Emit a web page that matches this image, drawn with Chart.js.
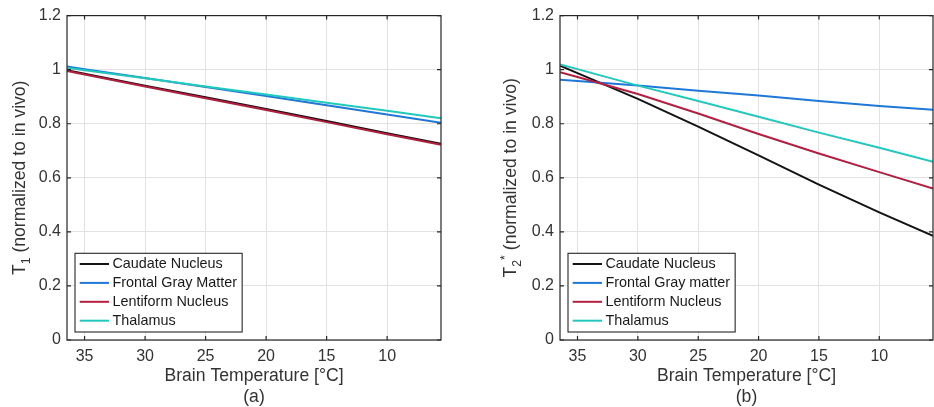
<!DOCTYPE html>
<html>
<head>
<meta charset="utf-8">
<script src="https://cdn.jsdelivr.net/npm/chart.js@4.4.1/dist/chart.umd.min.js"></script>
<style>
  html, body { margin: 0; padding: 0; background: #ffffff; }
  #wrap { position: relative; width: 934px; height: 407px; overflow: hidden; }
  #wrap canvas { position: absolute; top: 0; }
</style>
</head>
<body>
<div id="wrap">
  <canvas id="panelA" width="467" height="407" style="left:0px"></canvas>
  <canvas id="panelB" width="467" height="407" style="left:467px"></canvas>
</div>
<script>
// Brain temperature samples [°C]
const temperatures = [36.45, 35, 30, 25, 20, 15, 10, 5.55];

// Tick positions
const xTicks = [35, 30, 25, 20, 15, 10];
const yTicks = [0, 0.2, 0.4, 0.6, 0.8, 1, 1.2];

// Region names
const regionsT1 = ['Caudate Nucleus', 'Frontal Gray Matter', 'Lentiform Nucleus', 'Thalamus'];
const regionsT2 = ['Caudate Nucleus', 'Frontal Gray matter', 'Lentiform Nucleus', 'Thalamus'];

// T1 normalized to in vivo
const t1Caudate   = [0.998, 0.985, 0.941, 0.898, 0.855, 0.810, 0.765, 0.726];
const t1Frontal   = [1.012, 1.002, 0.969, 0.936, 0.903, 0.868, 0.834, 0.804];
const t1Lentiform = [0.995, 0.982, 0.938, 0.894, 0.851, 0.806, 0.761, 0.722];
const t1Thalamus  = [1.007, 0.998, 0.968, 0.938, 0.908, 0.878, 0.848, 0.820];

// T2* normalized to in vivo
const t2Caudate   = [1.015, 0.987, 0.892, 0.789, 0.683, 0.575, 0.472, 0.385];
const t2Frontal   = [0.963, 0.958, 0.941, 0.922, 0.904, 0.884, 0.866, 0.852];
const t2Lentiform = [0.991, 0.973, 0.910, 0.838, 0.762, 0.690, 0.621, 0.560];
const t2Thalamus  = [1.019, 1.002, 0.941, 0.884, 0.826, 0.767, 0.711, 0.659];

const lineColors = ['#141414', '#1f78d8', '#b41f40', '#23c8bd'];

const FONT = "'Liberation Sans', Arial, Helvetica, sans-serif";
Chart.defaults.font.family = FONT;

// Frame, inside tick marks, in-axes legend and the rotated y-axis label
const panelPlugin = {
  id: 'panel',
  afterDatasetsDraw(chart) {
    const { ctx, chartArea: a, scales: { x, y } } = chart;
    ctx.save();
    ctx.strokeStyle = '#262626';
    ctx.lineWidth = 1.2;
    ctx.beginPath();
    const tl = 4;
    xTicks.forEach(v => {
      const px = x.getPixelForValue(v);
      ctx.moveTo(px, a.bottom); ctx.lineTo(px, a.bottom - tl);
      ctx.moveTo(px, a.top); ctx.lineTo(px, a.top + tl);
    });
    yTicks.forEach(v => {
      const py = y.getPixelForValue(v);
      ctx.moveTo(a.left, py); ctx.lineTo(a.left + tl, py);
      ctx.moveTo(a.right, py); ctx.lineTo(a.right - tl, py);
    });
    ctx.stroke();
    ctx.strokeRect(a.left, a.top, a.right - a.left, a.bottom - a.top);
    ctx.restore();
  },
  afterDraw(chart, args, opts) {
    const { ctx, chartArea: a } = chart;
    ctx.save();

    // legend box
    const fs = 14.4;
    ctx.font = fs + 'px ' + FONT;
    const labels = chart.data.datasets.map(d => d.label);
    const maxW = Math.max(...labels.map(t => ctx.measureText(t).width));
    const boxL = a.left + 8;
    const boxB = a.bottom - 8;
    const rowH = 18.9;
    const boxH = 10.7 + rowH * (labels.length - 1) + 11.3;
    const boxT = boxB - boxH;
    const boxW = 37.4 + maxW + 5;
    ctx.fillStyle = '#ffffff';
    ctx.fillRect(boxL, boxT, boxW, boxH);
    ctx.strokeStyle = '#262626';
    ctx.lineWidth = 1.1;
    ctx.strokeRect(boxL, boxT, boxW, boxH);
    chart.data.datasets.forEach((d, i) => {
      const cy = boxT + 10.7 + rowH * i;
      ctx.strokeStyle = d.borderColor;
      ctx.lineWidth = 2;
      ctx.beginPath();
      ctx.moveTo(boxL + 4.7, cy);
      ctx.lineTo(boxL + 34, cy);
      ctx.stroke();
      ctx.fillStyle = '#1a1a1a';
      ctx.textBaseline = 'middle';
      ctx.textAlign = 'left';
      ctx.fillText(d.label, boxL + 37.4, cy + 0.5);
    });

    // rotated y-axis label with sub/superscripts
    const tf = 17.6;
    const small = 12.3;
    const parts = opts.yLabel;
    const fontOf = p => (p.kind === 'main' ? tf : small) + 'px ' + FONT;
    let total = 0;
    parts.forEach(p => { ctx.font = fontOf(p); p.w = ctx.measureText(p.text).width; total += p.w; });
    const cy = (a.top + a.bottom) / 2;
    ctx.translate(opts.yLabelX, cy);
    ctx.rotate(-Math.PI / 2);
    ctx.fillStyle = '#333333';
    ctx.textBaseline = 'alphabetic';
    ctx.textAlign = 'left';
    let cx = -total / 2;
    parts.forEach(p => {
      ctx.font = fontOf(p);
      const shift = p.kind === 'sub' ? 4.5 : (p.kind === 'sup' ? -7.5 : 0);
      ctx.fillText(p.text, cx, shift);
      cx += p.w;
    });
    ctx.restore();
  }
};

function makePanel(id, series, names, tag, yLabel, yLabelX, yWidth, padRight) {
  return new Chart(document.getElementById(id), {
    type: 'line',
    data: {
      datasets: series.map((vals, i) => ({
        label: names[i],
        data: temperatures.map((t, j) => ({ x: t, y: vals[j] })),
        borderColor: lineColors[i],
        backgroundColor: lineColors[i],
        borderWidth: 2,
        pointRadius: 0,
        tension: 0,
        fill: false,
        order: series.length - i
      }))
    },
    options: {
      responsive: false,
      animation: false,
      devicePixelRatio: 1,
      layout: { padding: { top: 15, right: padRight, left: 0, bottom: 0 } },
      plugins: {
        legend: { display: false },
        tooltip: { enabled: false },
        panel: { yLabel: yLabel, yLabelX: yLabelX }
      },
      scales: {
        x: {
          type: 'linear',
          reverse: true,
          min: 5.55,
          max: 36.45,
          afterBuildTicks: s => { s.ticks = xTicks.map(v => ({ value: v })); },
          afterFit: s => { s.height = 67; },
          grid: { color: '#e2e2e2', lineWidth: 1, drawTicks: false },
          border: { display: false },
          ticks: { padding: 7, color: '#333333', font: { size: 16 }, callback: v => String(v) },
          title: {
            display: true,
            text: ['Brain Temperature [°C]', tag],
            color: '#333333',
            font: { size: 17.6, lineHeight: 1.15 },
            padding: { top: 0, bottom: 0 }
          }
        },
        y: {
          min: 0,
          max: 1.2,
          afterBuildTicks: s => { s.ticks = yTicks.map(v => ({ value: v })); },
          afterFit: s => { s.width = yWidth; },
          grid: { color: '#e2e2e2', lineWidth: 1, drawTicks: false },
          border: { display: false },
          ticks: { padding: 6, color: '#333333', font: { size: 16 }, callback: v => String(v) }
        }
      }
    },
    plugins: [panelPlugin]
  });
}

makePanel('panelA',
  [t1Caudate, t1Frontal, t1Lentiform, t1Thalamus], regionsT1, '(a)',
  [{ text: 'T', kind: 'main' }, { text: '1', kind: 'sub' }, { text: ' (normalized to in vivo)', kind: 'main' }],
  25, 67, 26);

makePanel('panelB',
  [t2Caudate, t2Frontal, t2Lentiform, t2Thalamus], regionsT2, '(b)',
  [{ text: 'T', kind: 'main' }, { text: '2', kind: 'sub' }, { text: '*', kind: 'sup' }, { text: ' (normalized to in vivo)', kind: 'main' }],
  49, 93, 1);
</script>
</body>
</html>
